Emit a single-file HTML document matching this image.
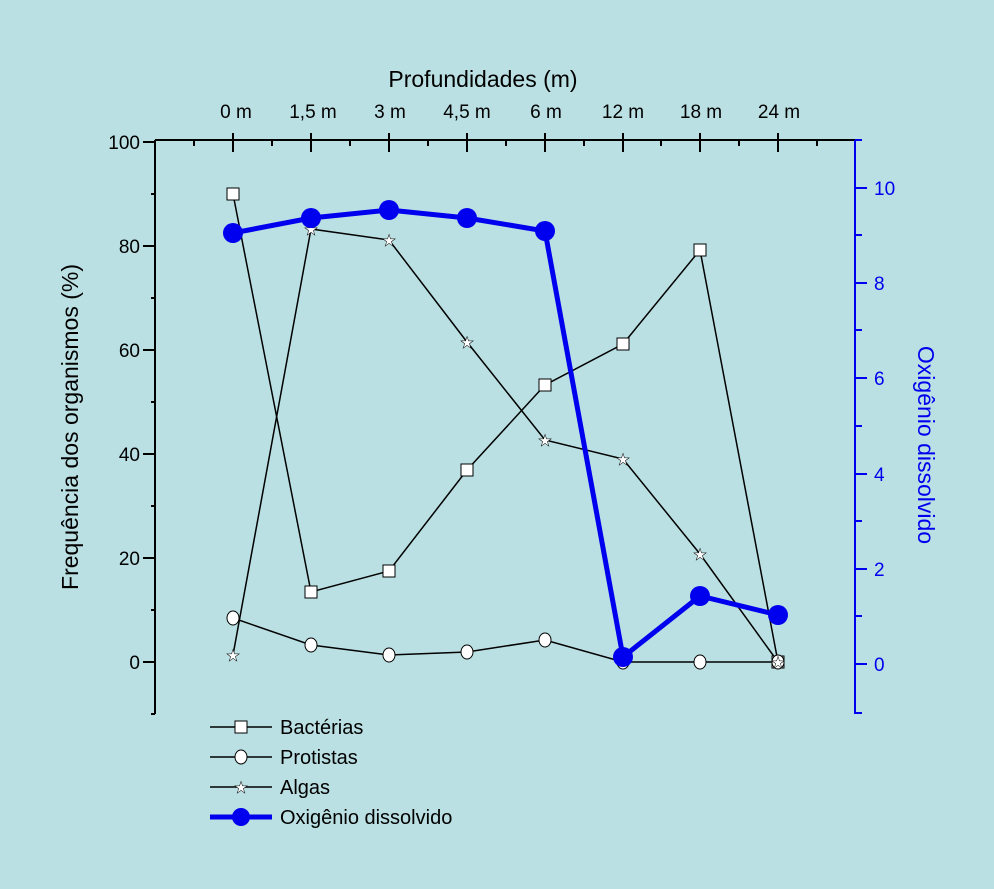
<!DOCTYPE html>
<html><head><meta charset="utf-8"><style>
html,body{margin:0;padding:0;background:#BAE0E3;}
svg{display:block;font-family:"Liberation Sans",Arial,sans-serif;}
</style></head><body>
<svg width="994" height="889" viewBox="0 0 994 889" xmlns="http://www.w3.org/2000/svg">
<rect width="994" height="889" fill="#BAE0E3"/>
<g stroke="#000" stroke-width="2" fill="none">
<line x1="155" y1="140" x2="155" y2="714"/>
<line x1="155" y1="140" x2="855" y2="140"/>
<line x1="143" y1="142" x2="155" y2="142"/><line x1="143" y1="246" x2="155" y2="246"/><line x1="143" y1="350" x2="155" y2="350"/><line x1="143" y1="454" x2="155" y2="454"/><line x1="143" y1="558" x2="155" y2="558"/><line x1="143" y1="662" x2="155" y2="662"/>
<line x1="151" y1="194" x2="155" y2="194"/><line x1="151" y1="298" x2="155" y2="298"/><line x1="151" y1="402" x2="155" y2="402"/><line x1="151" y1="506" x2="155" y2="506"/><line x1="151" y1="610" x2="155" y2="610"/><line x1="151" y1="714" x2="155" y2="714"/>
<line x1="233" y1="133" x2="233" y2="152"/><line x1="311" y1="133" x2="311" y2="152"/><line x1="389" y1="133" x2="389" y2="152"/><line x1="467" y1="133" x2="467" y2="152"/><line x1="545" y1="133" x2="545" y2="152"/><line x1="623" y1="133" x2="623" y2="152"/><line x1="700" y1="133" x2="700" y2="152"/><line x1="778" y1="133" x2="778" y2="152"/>
<line x1="194" y1="140" x2="194" y2="146"/><line x1="272" y1="140" x2="272" y2="146"/><line x1="350" y1="140" x2="350" y2="146"/><line x1="428" y1="140" x2="428" y2="146"/><line x1="506" y1="140" x2="506" y2="146"/><line x1="584" y1="140" x2="584" y2="146"/><line x1="661" y1="140" x2="661" y2="146"/><line x1="739" y1="140" x2="739" y2="146"/><line x1="817" y1="140" x2="817" y2="146"/>
</g>
<g stroke="#0000EE" stroke-width="2" fill="none">
<line x1="855" y1="140" x2="855" y2="714"/>
<line x1="855" y1="188" x2="867" y2="188"/><line x1="855" y1="283" x2="867" y2="283"/><line x1="855" y1="378" x2="867" y2="378"/><line x1="855" y1="474" x2="867" y2="474"/><line x1="855" y1="569" x2="867" y2="569"/><line x1="855" y1="664" x2="867" y2="664"/>
<line x1="855" y1="140" x2="862" y2="140"/><line x1="855" y1="235" x2="862" y2="235"/><line x1="855" y1="330" x2="862" y2="330"/><line x1="855" y1="426" x2="862" y2="426"/><line x1="855" y1="521" x2="862" y2="521"/><line x1="855" y1="616" x2="862" y2="616"/><line x1="855" y1="713" x2="862" y2="713"/>
</g>
<g font-size="19" fill="#000" text-anchor="end">
<text x="140" y="149">100</text><text x="140" y="253">80</text><text x="140" y="357">60</text><text x="140" y="461">40</text><text x="140" y="565">20</text><text x="140" y="669">0</text>
</g>
<g font-size="19" fill="#0000EE" text-anchor="start">
<text x="874" y="195">10</text><text x="874" y="290">8</text><text x="874" y="385">6</text><text x="874" y="481">4</text><text x="874" y="576">2</text><text x="874" y="671">0</text>
</g>
<g font-size="19" fill="#000" text-anchor="middle">
<text x="236" y="118">0 m</text><text x="313" y="118">1,5 m</text><text x="390" y="118">3 m</text><text x="467" y="118">4,5 m</text><text x="546" y="118">6 m</text><text x="623" y="118">12 m</text><text x="701" y="118">18 m</text><text x="779" y="118">24 m</text>
<text x="483" y="87" font-size="23">Profundidades (m)</text>
<text transform="translate(78,427) rotate(-90)" font-size="23">Frequência dos organismos (%)</text>
</g>
<text transform="translate(918,445) rotate(90)" font-size="23" fill="#0000EE" text-anchor="middle">Oxigênio dissolvido</text>
<g stroke="#000" stroke-width="1.5" fill="none">
<polyline points="233,194 311,592 389,571 467,470 545,385 623,344 700,250 778,662"/>
<polyline points="233,618 311,645 389,655 467,652 545,640 623,662 700,662 778,662"/>
<polyline points="233,655 311,229 389,240 467,342 545,440 623,459 700,554 778,662"/>
</g>
<g fill="#fff" stroke="#000" stroke-width="1">
<rect x="227" y="188" width="12" height="12"/><rect x="305" y="586" width="12" height="12"/><rect x="383" y="565" width="12" height="12"/><rect x="461" y="464" width="12" height="12"/><rect x="539" y="379" width="12" height="12"/><rect x="617" y="338" width="12" height="12"/><rect x="694" y="244" width="12" height="12"/><rect x="772" y="656" width="12" height="12"/>
<ellipse cx="233" cy="618" rx="6" ry="7"/><ellipse cx="311" cy="645" rx="6" ry="7"/><ellipse cx="389" cy="655" rx="6" ry="7"/><ellipse cx="467" cy="652" rx="6" ry="7"/><ellipse cx="545" cy="640" rx="6" ry="7"/><ellipse cx="623" cy="662" rx="6" ry="7"/><ellipse cx="700" cy="662" rx="6" ry="7"/><ellipse cx="778" cy="662" rx="6" ry="7"/>
</g>
<g fill="#fff" stroke="#000" stroke-width="0.5" font-size="16" text-anchor="middle">
<text x="233" y="661">★</text><text x="311" y="235">★</text><text x="389" y="246">★</text><text x="467" y="348">★</text><text x="545" y="446">★</text><text x="623" y="465">★</text><text x="700" y="560">★</text><text x="778" y="668">★</text>
</g>
<polyline points="233,233 311,218 389,210 467,218 545,231 623,657 700,596 778,615" fill="none" stroke="#0000EE" stroke-width="5"/>
<g fill="#0000EE">
<circle cx="233" cy="233" r="10"/><circle cx="311" cy="218" r="10"/><circle cx="389" cy="210" r="10"/><circle cx="467" cy="218" r="10"/><circle cx="545" cy="231" r="10"/><circle cx="623" cy="657" r="10"/><circle cx="700" cy="596" r="10"/><circle cx="778" cy="615" r="10"/>
</g>
<g stroke="#000" stroke-width="1.5">
<line x1="210" y1="727" x2="272" y2="727"/><line x1="210" y1="757" x2="272" y2="757"/><line x1="210" y1="787" x2="272" y2="787"/>
</g>
<rect x="235" y="721" width="12" height="12" fill="#fff" stroke="#000"/>
<ellipse cx="241" cy="757" rx="6" ry="7" fill="#fff" stroke="#000"/>
<text x="241" y="793" font-size="16" text-anchor="middle" fill="#fff" stroke="#000" stroke-width="0.5">★</text>
<line x1="210" y1="817" x2="272" y2="817" stroke="#0000EE" stroke-width="5"/>
<circle cx="241" cy="817" r="9" fill="#0000EE"/>
<g font-size="20" fill="#000">
<text x="280" y="734">Bactérias</text><text x="280" y="764">Protistas</text><text x="280" y="794">Algas</text><text x="280" y="824">Oxigênio dissolvido</text>
</g>
</svg>
</body></html>
